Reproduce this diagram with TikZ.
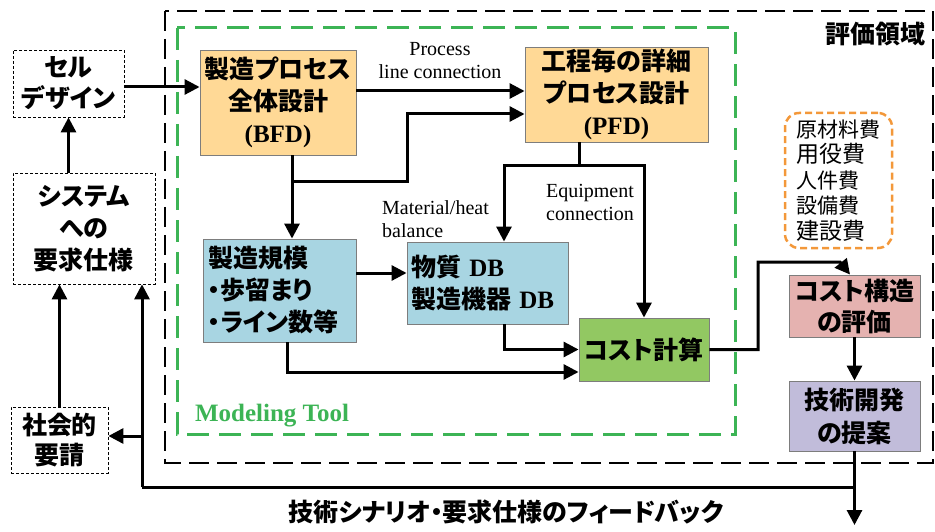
\documentclass[tikz,border=0pt]{standalone}
\usepackage{fontspec}
\setmainfont{Liberation Serif}
\newfontfamily\jp{Noto Sans CJK JP}[RawFeature={+palt}]
\usetikzlibrary{arrows.meta,calc}
\definecolor{borange}{RGB}{255,217,150}
\definecolor{bblue}{RGB}{168,213,226}
\definecolor{bgreen}{RGB}{146,200,98}
\definecolor{bpink}{RGB}{229,178,176}
\definecolor{bpurple}{RGB}{193,188,218}
\definecolor{dgreen}{RGB}{60,180,85}
\definecolor{dorange}{RGB}{243,152,58}
\definecolor{bgray}{RGB}{125,125,125}
\begin{document}
\begin{tikzpicture}[x=1pt,y=-1pt,
  jpt/.style={font=\jp\bfseries\fontsize{25}{32}\selectfont},
  plain/.style={draw=black, line width=0.8pt, dash pattern=on 3pt off 2pt, jpt, align=center, inner sep=0pt},
  fbox/.style={draw=bgray, line width=0.9pt, jpt, align=center, inner sep=0pt},
  lab/.style={font=\fontsize{20}{23}\selectfont, inner sep=0pt},
  line/.style={line width=3pt},
  arr/.style={line width=3pt, -{Triangle[length=15pt,width=15pt]}}
]
\useasboundingbox (0,0) rectangle (935,532);
% regions
\draw[line width=2pt, dash pattern=on 20pt off 8pt] (165,11) rectangle (933,463);
\draw[dgreen, line width=3pt, dash pattern=on 22pt off 10pt] (177,28) rectangle (735,434);
\node[anchor=east, jpt, inner sep=0pt] (area) at (926,34) {評価領域};
\node[text=dgreen, font=\bfseries\fontsize{25}{27}\selectfont, inner sep=0pt] (mt) at (272,416) {Modeling Tool};
% nodes
\node[plain, minimum width=111pt, minimum height=67pt, font=\jp\bfseries\fontsize{25}{31}\selectfont] (cell) at (68.5,83.5) {セル\\デザイン};
\node[plain, minimum width=142pt, minimum height=111pt] (sys) at (84,228.5) {システム\\への\\要求仕様};
\node[plain, minimum width=97pt, minimum height=66pt, font=\jp\bfseries\fontsize{25}{30}\selectfont] (soc) at (59.5,440) {社会的\\要請};
\node[fbox, fill=borange, minimum width=156pt, minimum height=105pt] (bfd) at (278,102.5) {製造プロセス\\全体設計\\{\rmfamily\bfseries (BFD)}};
\node[fbox, fill=borange, minimum width=183pt, minimum height=95pt] (pfd) at (616.5,94.5) {工程毎の詳細\\プロセス設計\\{\rmfamily\bfseries (PFD)}};
\node[fbox, fill=bblue, minimum width=153pt, minimum height=103pt, align=left, text width=143pt] (scale) at (279.5,290.5) {製造規模\\・歩留まり\\・ライン数等};
\node[fbox, fill=bblue, minimum width=161pt, minimum height=82pt, align=left, text width=153pt] (db) at (487.5,283) {物質 {\rmfamily\bfseries DB}\\製造機器 {\rmfamily\bfseries DB}};
\node[fbox, fill=bgreen, minimum width=130pt, minimum height=63pt] (cc) at (644,349.5) {コスト計算};
\node[fbox, fill=bpink, minimum width=131pt, minimum height=62pt, font=\jp\bfseries\fontsize{25}{31}\selectfont] (cs) at (854.5,306) {コスト構造\\の評価};
\node[fbox, fill=bpurple, minimum width=131pt, minimum height=70pt, font=\jp\bfseries\fontsize{25}{33}\selectfont] (td) at (854.5,416) {技術開発\\の提案};
\node[draw=dorange, line width=2.5pt, dash pattern=on 7pt off 4pt, rounded corners=14pt, minimum width=107pt, minimum height=135pt, align=left, inner sep=0pt, font=\jp\fontsize{21}{25.5}\selectfont] (costs) at (838.5,180.5)
  {原材料費\\{\fontsize{23}{25.5}\selectfont 用役費}\\人件費\\設備費\\{\fontsize{23}{25.5}\selectfont 建設費}};
% labels
\node[lab, align=center] (l1) at (440,61) {Process\\line connection};
\node[lab, align=left, anchor=west] (l2) at (382,219) {Material/heat\\balance};
\node[lab, align=left] (l3) at (590,202) {Equipment\\connection};
\node[jpt, inner sep=0pt] (fbt) at (506,512) {技術シナリオ・要求仕様のフィードバック};
% coordinates
\coordinate (c1) at ([yshift=-3.5pt]cell.east);
\coordinate (b1) at ([yshift=11.5pt]bfd.east);
\coordinate (b2) at ([xshift=14pt]bfd.south);
\coordinate (j1) at (292,182);
\coordinate (t1) at (407,182);
\coordinate (p2) at ([yshift=-19.5pt]pfd.west);
\coordinate (p3) at ([xshift=-37.5pt]pfd.south);
\coordinate (j2) at (579,166);
\coordinate (d1) at ([xshift=16.5pt]db.north);
\coordinate (d2) at ([xshift=16.5pt]db.south);
\coordinate (s1) at ([yshift=17.5pt]scale.east);
\coordinate (s2) at ([xshift=7.5pt]scale.south);
\coordinate (c2) at ([yshift=-22.5pt]cc.west);
\coordinate (k) at (758,262);
\coordinate (k2) at (840,262);
\coordinate (cs1) at ([xshift=-4.5pt]cs.north);
\coordinate (out) at (854.5,525);
\coordinate (fb) at (142,487);
\coordinate (fbs) at (142,436);
% connectors
\draw[arr] (c1) -- (c1 -| bfd.west);
\draw[arr] (cell.south |- sys.north) -- (cell.south);
\draw[arr] (soc.north) -- (soc.north |- sys.south);
\draw[arr] (b1) -- (b1 -| pfd.west);
\draw[arr] (b2) -- (b2 |- scale.north);
\draw[arr] (j1) -- (t1) |- (p2);
\draw[line] (p3) -- (j2);
\draw[arr] (j2) -| (d1);
\draw[arr] (j2) -| (cc.north);
\draw[arr] (s1) -- (s1 -| db.west);
\draw[arr] (d2) |- (cc.west);
\draw[arr] (s2) |- (c2);
\draw[arr] (cc.east) -| (k) -- (k2) -- (cs1);
\draw[arr] (cs.south) -- (td.north);
\draw[arr] (td.south) -- (out);
\draw[line] (td.south |- fb) -- (fb);
\draw[arr] (fb) -- (fb |- sys.south);
\draw[arr] (fbs) -- (fbs -| soc.east);
\end{tikzpicture}
\end{document}
